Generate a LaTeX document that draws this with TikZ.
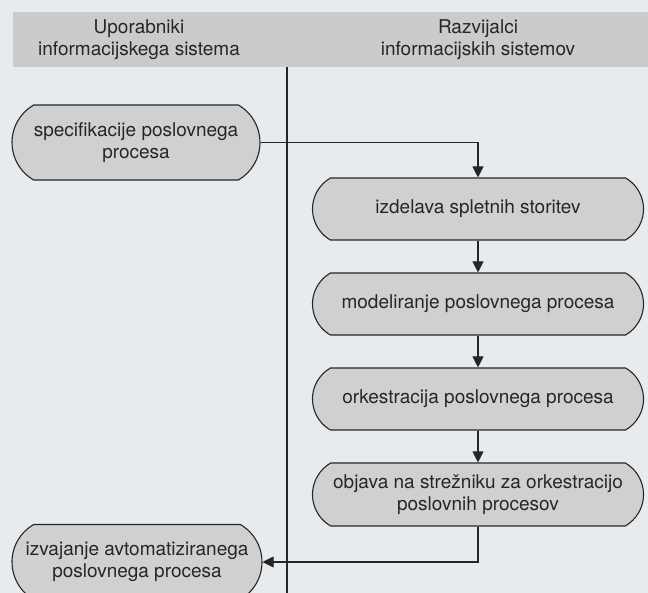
\documentclass[tikz,border=0pt]{standalone}
\usepackage{fontspec}
\setmainfont{TeX Gyre Heros}
\usetikzlibrary{shapes.misc,arrows.meta}

\definecolor{paper}{HTML}{E8EBEE}
\definecolor{band}{HTML}{CBCBCB}
\definecolor{boxfill}{HTML}{D0D0D0}
\definecolor{ink}{HTML}{262626}

\tikzset{
	proc/.style={rounded rectangle, rounded rectangle arc length=120, draw=ink, line width=1.1pt,
		fill=boxfill, inner sep=0pt, align=center, text=ink},
	flow/.style={draw=ink, line width=1.1pt, -{Triangle[length=11pt,width=11pt]}},
	lane/.style={align=center, text=ink}
}

\begin{document}
\begin{tikzpicture}[x=1pt,y=-1pt,font=\fontsize{19}{22}\selectfont]
\useasboundingbox (0,0) rectangle (648,593);
\fill[paper] (0,0) rectangle (648,593);
\fill[band] (13,12) rectangle (648,67);
\node (usr) at (139,40) [lane] {Uporabniki\\informacijskega sistema};
\node (dev) at (478,40) [lane] {Razvijalci\\informacijskih sistemov};
\draw[ink, line width=1.1pt] (287,67) -- (287,593);

\node (spec) at (136,142.5) [proc, minimum width=248pt, minimum height=75pt] {specifikacije poslovnega\\procesa};
\node (izd) at (478,209) [proc, minimum width=331pt, minimum height=62pt] {izdelava spletnih storitev};
\node (mod) at (478,304) [proc, minimum width=331pt, minimum height=62pt] {modeliranje poslovnega procesa};
\node (ork) at (478,399) [proc, minimum width=331pt, minimum height=62pt] {orkestracija poslovnega procesa};
\node (obj) at (478,494.5) [proc, minimum width=331pt, minimum height=63pt] {objava na strežniku za orkestracijo\\poslovnih procesov};
\node (izv) at (137,562) [proc, minimum width=250pt, minimum height=75pt] {izvajanje avtomatiziranega\\poslovnega procesa};

\draw[flow] (spec.east) -- (spec.east -| izd.north) -- (izd.north);
\foreach \a/\b in {izd/mod,mod/ork,ork/obj}
	\draw[flow] (\a.south) -- (\b.north);
\draw[flow] (obj.south) |- (izv.east);
\end{tikzpicture}
\end{document}
